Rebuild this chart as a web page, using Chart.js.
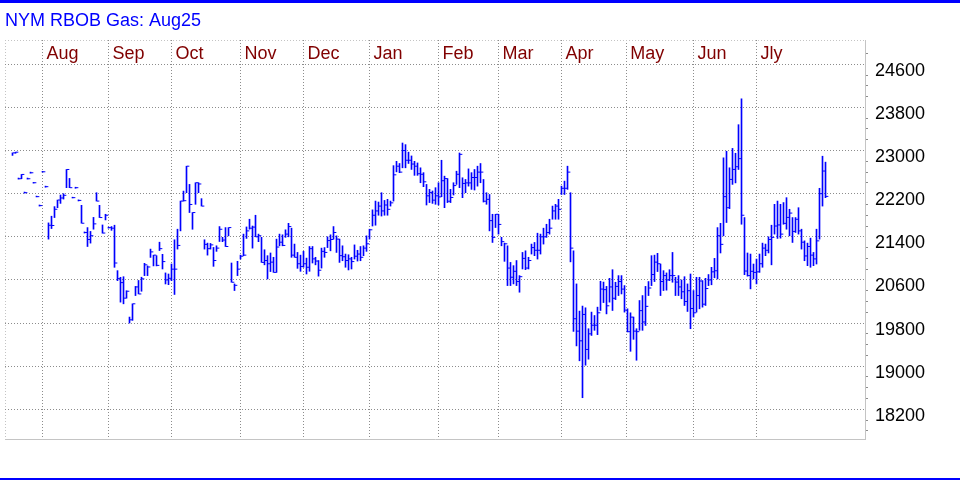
<!DOCTYPE html>
<html>
<head>
<meta charset="utf-8">
<title>NYM RBOB Gas: Aug25</title>
<script src="https://cdn.jsdelivr.net/npm/chart.js@4.4.1/dist/chart.umd.min.js"></script>
<style>
  html,body{margin:0;padding:0;background:#fff;}
  #wrap{width:960px;height:480px;}
</style>
</head>
<body>
<div id="wrap"><canvas id="chart" width="960" height="480"></canvas></div>
<script>
// daily bars, Jul 2024 -> Jul 2025 (one entry per trading day)
const chartTitle = 'NYM RBOB Gas: Aug25';
const months = ['Aug','Sep','Oct','Nov','Dec','Jan','Feb','Mar','Apr','May','Jun','Jly'];
const monthStarts = [10, 32, 53, 76, 97, 119, 142, 162, 183, 204.6, 227, 248]; // trading-day position of each month line
const yLabels = [18200, 19000, 19800, 20600, 21400, 22200, 23000, 23800, 24600];

const highs = [
  22957,22970,22490,22557,22230,22490,22600,22410,22155,21990,22615,22340,
  21658,21782,21960,22082,22175,22200,22649,22483,22135,22320,22085,21984,21490,21571,21500,21760,22218,21984,21620,21818,21580,21590,
  21615,20772,20649,20660,20400,19911,20157,20480,20590,20650,20908,20860,21172,21060,21050,21300,21075,20730,20710,
  20895,21345,21541,22063,22248,22710,22372,21850,22403,22403,22108,21345,21283,21277,21203,21233,21590,21390,21571,21571,20914,20526,20945,
  21060,21450,21583,21726,21600,21800,21450,21390,21160,21050,21100,21020,21357,21450,21437,21530,21650,21560,21265,21110,21060,
  21130,21005,21220,21220,21020,20960,21190,21200,21400,21437,21590,21418,21357,21233,21080,21067,21020,21250,21150,21220,21233,21418,
  21541,21900,22063,22045,22218,22075,22095,22063,22720,22800,22760,23140,23110,22970,22900,22800,22770,22680,22590,22372,22280,22250,22311,
  22403,22820,22525,22480,22280,22403,22617,22955,22495,22464,22660,22590,22649,22710,22760,22464,22218,22185,21818,21818,
  21818,21390,21283,21233,20925,20865,20960,20680,21110,21140,21020,21265,21295,21467,21450,21560,21633,21726,21970,22003,22095,
  22340,22433,22710,22218,21140,20526,20022,20115,20083,19695,20003,19940,20095,20575,20560,20480,20630,20790,20557,20680,20680,20495,
  20064,19990,19911,19695,20218,20310,20480,20570,21050,21060,21093,20895,20772,20730,20790,21110,20649,20680,20600,20660,20526,20710,
  20403,20649,20649,20587,20630,20700,20834,21000,21571,21650,22865,22987,22680,23040,22950,23480,23960,21757,21100,21080,20895,
  20987,21080,21283,21265,21400,21615,22003,22063,22003,22035,22126,21911,21757,21757,21940,21541,21325,21283,21375,21110,21541,22300,22895,22785
];
const lows = [
  22910,22950,22470,22477,22210,22470,22580,22395,22140,21970,22600,22320,
  21357,21553,21757,21940,22020,22100,22311,22311,22120,22300,22065,21652,21470,21220,21283,21541,22063,21757,21467,21713,21560,21520,
  20834,20587,20188,20157,20262,19800,19850,20310,20340,20390,20680,20680,21018,20860,20860,21145,20803,20525,20512,
  20587,20330,21172,21510,22063,22218,21850,21540,22003,22218,21970,21172,21060,21172,20852,21130,21313,21310,21220,21417,20557,20403,20680,
  20987,21050,21370,21541,21190,21400,21310,20925,20880,20618,20755,20740,20740,21233,21233,21390,21400,21020,21020,20815,20760,
  20835,20710,20760,20914,20880,20670,20820,21020,21200,21140,21357,21110,20925,20956,20835,20785,20803,20987,20950,20956,21050,21130,
  21357,21600,21615,21800,21785,21800,21800,21970,22063,22605,22590,22680,22680,22760,22650,22540,22540,22403,22330,21990,22035,22020,22003,
  21990,22145,21940,22035,22035,22175,22372,22311,22126,22218,22340,22280,22268,22340,22403,22045,22003,21510,21295,21572,
  21450,21233,20945,20495,20495,20526,20495,20372,20803,20790,20803,21080,21050,20987,21080,21265,21390,21450,21726,21726,21726,
  22185,22185,22280,20935,19645,19376,19100,18415,19018,19130,19570,19665,19585,20033,20180,19970,20188,20033,20235,20310,20340,20003,
  19635,19276,19498,19110,19665,19665,19755,20310,20495,20570,20755,20310,20403,20410,20587,20557,20310,20310,20250,20126,20015,19695,
  19911,20003,20064,20095,20126,20495,20510,20640,20618,21100,21418,21665,21923,22372,22400,22649,21633,20698,20670,20434,20618,
  20526,20740,20835,21050,21100,20880,21450,21370,21375,21633,21541,21418,21295,21480,21450,21172,20956,20865,20835,20865,20895,21357,21970,22126
];
const closes = [
  22957,22970,22477,22557,22219,22477,22588,22403,22145,21979,22606,22330,
  21614,21610,21911,22082,22120,22170,22649,22311,22126,22311,22075,21652,21480,21350,21420,21640,22063,21757,21470,21800,21570,21560,
  20914,20624,20550,20262,20390,19860,20157,20470,20340,20620,20880,20840,21120,21060,20870,21180,20940,20600,20630,
  20800,20800,21240,22063,22070,22710,22000,21850,22403,22380,21970,21260,21180,21250,20960,21190,21540,21340,21220,21571,20557,20500,20800,
  21040,21060,21510,21560,21580,21400,21420,20925,20960,20900,20930,20740,21210,21300,21240,21450,21590,21060,21020,20900,20850,
  20900,20835,21180,20990,20950,20780,21130,21110,21330,21350,21480,21357,21050,21030,20960,20990,20940,21040,21080,21020,21190,21270,
  21530,21800,21880,21970,21880,21990,21910,22030,22550,22710,22600,23000,22820,22820,22750,22710,22570,22560,22420,22160,22220,22080,22160,
  22140,22440,22480,22060,22130,22350,22560,22930,22390,22400,22400,22500,22500,22600,22600,22060,22095,21700,21390,21818,
  21630,21310,21270,20820,20650,20760,20570,20660,21000,20820,20960,21200,21150,21150,21400,21400,21480,21560,21880,21970,21910,
  22300,22300,22600,21190,19880,19650,19470,19960,19310,19600,19760,19760,19990,20430,20420,20120,20470,20260,20480,20570,20430,20040,
  19640,19910,19650,19640,20030,19820,20110,20450,20700,20930,20900,20570,20680,20600,20680,20680,20560,20470,20380,20200,20400,20070,
  19990,20310,20580,20150,20440,20600,20750,20770,21420,21260,22145,21940,22465,22650,22700,22850,21800,20765,20680,20760,20740,
  20750,20900,21190,21150,21350,21390,21600,21620,21450,21650,21760,21840,21500,21725,21510,21300,21045,21220,21060,20990,21325,22200,22620,22150
];

const BLUE = '#0000ff';
const GRID = '#8c8c8c';
const FRAME = '#c4c4c4';
const FONT = '"Liberation Sans", Arial, sans-serif';
const X_MIN = -2.5, X_MAX = 284.1667;
const Y_MIN = 17649, Y_MAX = 25051;

Chart.defaults.font.family = FONT;

// page frame: white background + blue rules top and bottom, month names in the plot
const framePlugin = {
  id:'framePlugin',
  beforeDraw(chart){
    const {ctx,width,height} = chart;
    ctx.save();
    ctx.fillStyle = '#fff'; ctx.fillRect(0,0,width,height);
    ctx.fillStyle = BLUE; ctx.fillRect(0,0,width,3); ctx.fillRect(0,height-2,width,2);
    ctx.restore();
  },
  afterDraw(chart){
    const {ctx,chartArea,scales:{x}} = chart;
    ctx.save();
    ctx.font = '18px ' + FONT;
    ctx.fillStyle = '#800000';
    ctx.textBaseline = 'alphabetic';
    months.forEach((m,i)=> ctx.fillText(m, x.getPixelForValue(monthStarts[i]) + 4, chartArea.top + 19.3));
    ctx.restore();
  }
};

const ranges = highs.map((h,i)=>({x:i, y:[lows[i], h]}));
const closeTicks = closes.map((c,i)=>({x:i + 0.55, y:c}));

new Chart(document.getElementById('chart'), {
  type:'bar',
  data:{ datasets:[
    { type:'bar', data:ranges, backgroundColor:BLUE, borderWidth:0, barThickness:1, grouped:false, borderSkipped:false },
    { type:'scatter', data:closeTicks, pointStyle:'line', pointRadius:1.2, pointHoverRadius:1.2, borderColor:BLUE, backgroundColor:BLUE, borderWidth:1 }
  ]},
  options:{
    responsive:false, animation:false, devicePixelRatio:1,
    layout:{ padding:{ left:5, right:0, top:0, bottom:41 } },
    plugins:{
      legend:{display:false}, tooltip:{enabled:false},
      title:{ display:true, text:chartTitle, align:'start', color:BLUE,
              font:{family:FONT, size:18, weight:'normal', lineHeight:1.2}, padding:{top:10.5, bottom:7.9} }
    },
    scales:{
      x:{
        type:'linear', min:X_MIN, max:X_MAX, offset:false,
        afterBuildTicks: s => { s.ticks = [X_MIN, ...monthStarts].map(v=>({value:v})); },
        ticks:{display:false},
        grid:{ offset:false, drawTicks:false, lineWidth:1, color: c => (c.tick && c.tick.value===X_MIN) ? FRAME : GRID },
        border:{ color:FRAME, width:1, dash:[1,2] }
      },
      y:{
        position:'right', min:Y_MIN, max:Y_MAX,
        afterBuildTicks: s => {
          const t = [];
          for(let v=17800; v<=24800; v+=200) t.push({value:v});
          t.push({value:Y_MAX});
          s.ticks = t;
        },
        afterFit: s => { s.width = 95; },
        ticks:{ autoSkip:false, color:'#000', padding:7, labelOffset:6.5,
                font:{family:FONT, size:18},
                callback: v => yLabels.includes(v) ? String(v) : '' },
        grid:{ drawTicks:true, tickLength:3, lineWidth:1,
               color: c => { const v = c.tick && c.tick.value; return yLabels.includes(v) ? GRID : (v===Y_MAX ? FRAME : 'rgba(0,0,0,0)'); },
               tickColor: c => { const v = c.tick && c.tick.value; return (yLabels.includes(v) || v===Y_MAX) ? 'rgba(0,0,0,0)' : GRID; } },
        border:{ color:FRAME, width:1, dash:[1,2] }
      }
    }
  },
  plugins:[framePlugin]
});
</script>
</body>
</html>
